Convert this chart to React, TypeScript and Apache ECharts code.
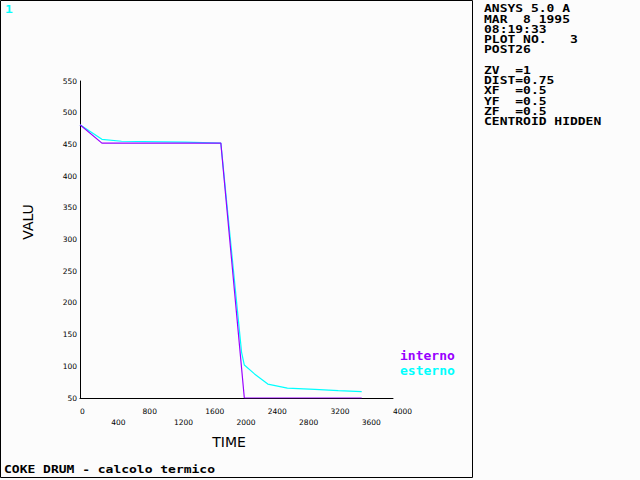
import React, { useEffect, useRef } from "react";
import * as echarts from "echarts";

const timeInterno = [0, 280, 1800, 2100, 3600];
const valInterno = [481, 452, 452, 50, 50];
const timeEsterno = [0, 280, 530, 1340, 1800, 2065, 2100, 2230, 2400, 2650, 3000, 3300, 3600];
const valEsterno = [481, 458, 455, 453.5, 452, 122, 102, 88, 72, 65.5, 63.5, 61.5, 60];

const seriesNames = ["interno", "esterno"];
const infoLines = [
  "ANSYS 5.0 A",
  "MAR  8 1995",
  "08:19:33",
  "PLOT NO.   3",
  "POST26",
  "",
  "ZV  =1",
  "DIST=0.75",
  "XF  =0.5",
  "YF  =0.5",
  "ZF  =0.5",
  "CENTROID HIDDEN",
];
const plotTitle = "COKE DRUM - calcolo termico";
const windowNo = "1";
const xTitle = "TIME";
const yTitle = "VALU";

const PURPLE = "#9900ff";
const CYAN = "#00ffff";
const MONO = "'DejaVu Sans Mono', monospace";

export default function App() {
  const ref = useRef<HTMLDivElement>(null);
  useEffect(() => {
    const chart = echarts.init(ref.current!, null, { renderer: "svg" });
    const monoText = (text: string, x: number, y: number, color: string) => ({
      type: "text",
      x,
      y,
      scaleY: 0.78,
      style: {
        text,
        fill: color,
        font: `bold 13px ${MONO}`,
        verticalAlign: "middle",
        align: "left",
      },
    });
    const graphics: any[] = [
      {
        type: "rect",
        shape: { x: 0.5, y: 0.5, width: 472, height: 477 },
        style: { fill: "none", stroke: "#000", lineWidth: 1 },
      },
      monoText(windowNo, 5, 9.5, CYAN),
      monoText(plotTitle, 4, 469.5, "#000"),
      {
        type: "text",
        x: 229,
        y: 442,
        style: {
          text: xTitle,
          fill: "#000",
          font: "14px 'DejaVu Sans', sans-serif",
          align: "center",
          verticalAlign: "middle",
        },
      },
      {
        type: "text",
        x: 28,
        y: 222,
        rotation: Math.PI / 2,
        style: {
          text: yTitle,
          fill: "#000",
          font: "14px 'DejaVu Sans', sans-serif",
          align: "center",
          verticalAlign: "middle",
        },
      },
    ];
    infoLines.forEach((line, k) => {
      if (line) graphics.push(monoText(line, 484, 9 + 10.25 * k, "#000"));
    });

    chart.setOption({
      animation: false,
      backgroundColor: "#fcfcfc",
      grid: { left: 80, right: 247, top: 81, bottom: 82 },
      legend: {
        orient: "vertical",
        left: 390,
        top: 343,
        itemWidth: 0,
        itemHeight: 0,
        itemGap: 0,
        icon: "rect",
        data: [
          { name: seriesNames[0], textStyle: { color: PURPLE } },
          { name: seriesNames[1], textStyle: { color: CYAN } },
        ],
        textStyle: {
          fontFamily: MONO,
          fontWeight: "bold",
          fontSize: 13,
          lineHeight: 15,
        },
      },
      xAxis: {
        type: "value",
        min: 0,
        max: 4000,
        interval: 400,
        splitLine: { show: false },
        axisTick: { show: false },
        axisLine: { lineStyle: { color: "#000", width: 1 } },
        axisLabel: {
          showMinLabel: true,
          showMaxLabel: true,
          align: "left",
          margin: 7.5,
          lineHeight: 11,
          fontSize: 7.5,
          fontFamily: "'DejaVu Sans', sans-serif",
          color: "#000",
          formatter: (v: number) => (Math.round(v / 400) % 2 ? "\n" + v : String(v)),
        },
      },
      yAxis: {
        type: "value",
        min: 50,
        max: 550,
        interval: 50,
        splitLine: { show: false },
        axisTick: { show: false },
        axisLine: { show: true, lineStyle: { color: "#000", width: 1 } },
        axisLabel: {
          showMinLabel: true,
          showMaxLabel: true,
          margin: 3,
          padding: [5, 0, 0, 0],
          fontSize: 7.5,
          fontFamily: "'DejaVu Sans', sans-serif",
          color: "#000",
        },
      },
      series: [
        {
          name: seriesNames[1],
          type: "line",
          showSymbol: false,
          symbol: "none",
          color: CYAN,
          lineStyle: { color: CYAN, width: 1.2 },
          data: timeEsterno.map((t, i) => [t, valEsterno[i]]),
          z: 3,
        },
        {
          name: seriesNames[0],
          type: "line",
          showSymbol: false,
          symbol: "none",
          color: PURPLE,
          lineStyle: { color: PURPLE, width: 1.2 },
          data: timeInterno.map((t, i) => [t, valInterno[i]]),
          z: 4,
        },
      ],
      graphic: graphics,
    });
    return () => chart.dispose();
  }, []);
  return (
    <div
      ref={ref}
      style={{ position: "fixed", left: 0, top: 0, width: 640, height: 480 }}
    />
  );
}
